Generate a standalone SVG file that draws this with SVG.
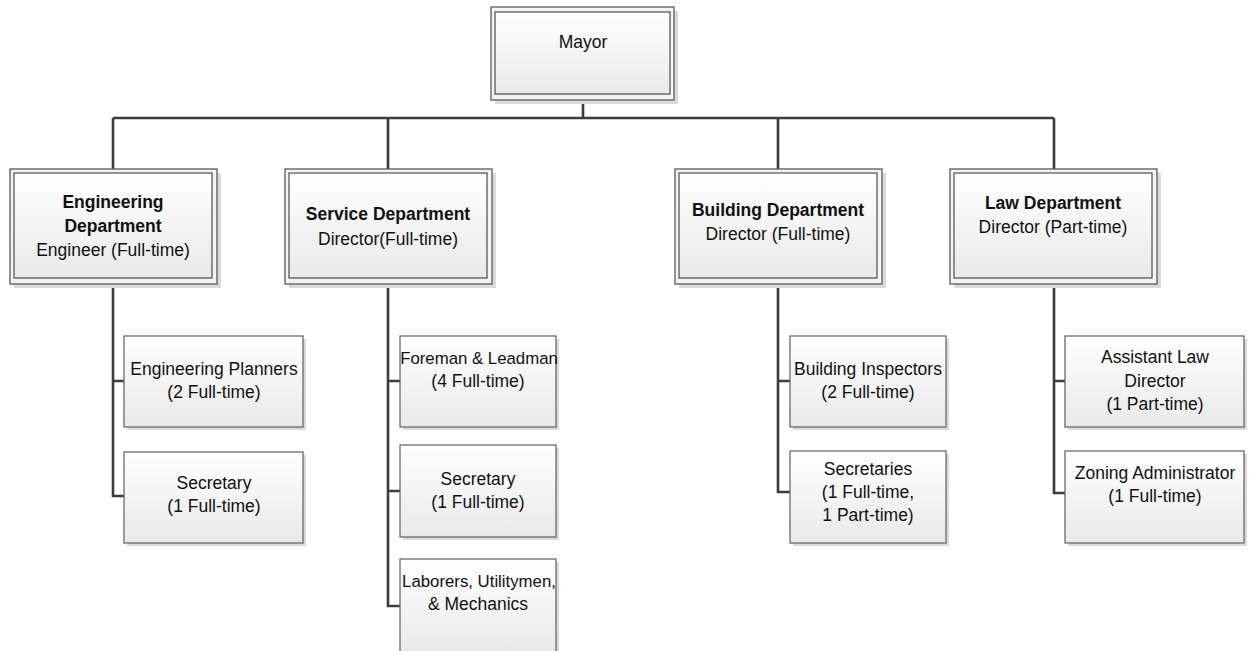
<svg xmlns="http://www.w3.org/2000/svg" width="1249" height="651" viewBox="0 0 1249 651">
<defs>
<linearGradient id="g" x1="0" y1="0" x2="0" y2="1">
<stop offset="0" stop-color="#ffffff"/>
<stop offset="1" stop-color="#e9e9e9"/>
</linearGradient>
<style>
.sh{fill:#dadada}
.out{fill:#f4f4f4;stroke:#5a5a5a;stroke-width:1.3}
.in{fill:url(#g);stroke:#5a5a5a;stroke-width:1.3}
.box{fill:url(#g);stroke:#6a6a6a;stroke-width:1.3}
text{font-family:"Liberation Sans",Arial,sans-serif;font-size:17.5px;fill:#111;text-anchor:middle}
.b{font-weight:bold}
.n{font-size:16.8px}
.c{fill:none;stroke:#3c3c3c;stroke-width:2.6}
</style>
</defs>
<rect width="1249" height="651" fill="#fff"/>
<g id="connectors">
<path class="c" d="M583 100V118M113 118H1054M113 118V169M388 118V169M778 118V169M1054 118V169"/>
<path class="c" d="M113 284V496H124M113 381H124"/>
<path class="c" d="M388 284V606H400M388 381H400M388 491H400"/>
<path class="c" d="M778 284V492H790M778 381H790"/>
<path class="c" d="M1054 284V493H1065M1054 381H1065"/>
</g>
<g id="mayor">
<rect class="sh" x="495" y="11" width="183" height="93"/>
<rect class="out" x="491" y="7" width="183" height="93"/>
<rect class="in" x="495" y="12" width="175" height="82"/>
<text x="583" y="48">Mayor</text>
</g>
<g id="engineering">
<rect class="sh" x="14" y="173" width="207" height="115"/>
<rect class="out" x="10" y="169" width="207" height="115"/>
<rect class="in" x="14" y="173" width="198" height="105"/>
<text class="b" x="113" y="208">Engineering</text>
<text class="b" x="113" y="232">Department</text>
<text x="113" y="256">Engineer (Full-time)</text>
</g>
<g id="service">
<rect class="sh" x="289" y="173" width="207" height="115"/>
<rect class="out" x="285" y="169" width="207" height="115"/>
<rect class="in" x="289" y="173" width="198" height="105"/>
<text class="b" x="388" y="220">Service Department</text>
<text x="388" y="245">Director(Full-time)</text>
</g>
<g id="building">
<rect class="sh" x="679" y="173" width="207" height="115"/>
<rect class="out" x="675" y="169" width="207" height="115"/>
<rect class="in" x="679" y="173" width="198" height="105"/>
<text class="b" x="778" y="216">Building Department</text>
<text x="778" y="240">Director (Full-time)</text>
</g>
<g id="law">
<rect class="sh" x="954" y="173" width="207" height="115"/>
<rect class="out" x="950" y="169" width="207" height="115"/>
<rect class="in" x="954" y="173" width="198" height="105"/>
<text class="b" x="1053" y="209">Law Department</text>
<text x="1053" y="233">Director (Part-time)</text>
</g>
<g id="eng-planners">
<rect class="sh" x="127" y="339" width="179" height="91"/>
<rect class="box" x="124" y="336" width="179" height="91"/>
<text x="214" y="375">Engineering Planners</text>
<text x="214" y="398">(2 Full-time)</text>
</g>
<g id="eng-secretary">
<rect class="sh" x="127" y="455" width="179" height="91"/>
<rect class="box" x="124" y="452" width="179" height="91"/>
<text x="214" y="489">Secretary</text>
<text x="214" y="512">(1 Full-time)</text>
</g>
<g id="foreman">
<rect class="sh" x="403" y="339" width="156" height="91"/>
<rect class="box" x="400" y="336" width="156" height="91"/>
<text class="n" x="479" y="364">Foreman &amp; Leadman</text>
<text x="478" y="387">(4 Full-time)</text>
</g>
<g id="svc-secretary">
<rect class="sh" x="403" y="448" width="156" height="92"/>
<rect class="box" x="400" y="445" width="156" height="92"/>
<text x="478" y="485">Secretary</text>
<text x="478" y="508">(1 Full-time)</text>
</g>
<g id="laborers">
<rect class="sh" x="403" y="562" width="156" height="94"/>
<rect class="box" x="400" y="559" width="156" height="94"/>
<text class="n" x="479" y="587">Laborers, Utilitymen,</text>
<text x="478" y="610">&amp; Mechanics</text>
</g>
<g id="inspectors">
<rect class="sh" x="793" y="339" width="156" height="91"/>
<rect class="box" x="790" y="336" width="156" height="91"/>
<text x="868" y="375">Building Inspectors</text>
<text x="868" y="398">(2 Full-time)</text>
</g>
<g id="secretaries">
<rect class="sh" x="793" y="454" width="156" height="92"/>
<rect class="box" x="790" y="451" width="156" height="92"/>
<text x="868" y="475">Secretaries</text>
<text x="868" y="498">(1 Full-time,</text>
<text x="868" y="521">1 Part-time)</text>
</g>
<g id="assistant-law">
<rect class="sh" x="1068" y="339" width="179" height="91"/>
<rect class="box" x="1065" y="336" width="179" height="91"/>
<text x="1155" y="363">Assistant Law</text>
<text x="1155" y="387">Director</text>
<text x="1155" y="410">(1 Part-time)</text>
</g>
<g id="zoning">
<rect class="sh" x="1068" y="454" width="179" height="92"/>
<rect class="box" x="1065" y="451" width="179" height="92"/>
<text x="1155" y="479">Zoning Administrator</text>
<text x="1155" y="502">(1 Full-time)</text>
</g>
</svg>
